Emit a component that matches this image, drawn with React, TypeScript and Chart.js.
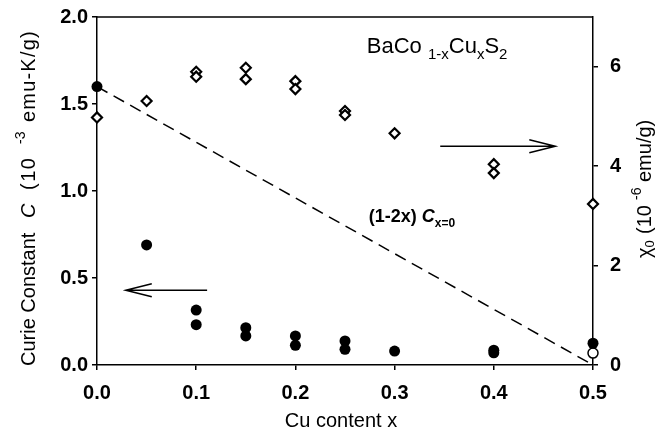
import React, { useEffect, useRef } from "react";
import { Chart, registerables } from "chart.js";

Chart.register(...registerables);

// Curie constant C (10^-3 emu-K/g), left axis
const xCurie = [0, 0.05, 0.1, 0.1, 0.15, 0.15, 0.2, 0.2, 0.25, 0.25, 0.3, 0.4, 0.4, 0.5];
const curie = [1.60, 0.69, 0.316, 0.232, 0.214, 0.167, 0.167, 0.113, 0.138, 0.09, 0.08, 0.085, 0.07, 0.125];

// chi_0 (10^-6 emu/g), right axis
const xChi = [0, 0.05, 0.1, 0.1, 0.15, 0.15, 0.2, 0.2, 0.25, 0.25, 0.3, 0.4, 0.4, 0.5];
const chi = [4.98, 5.31, 5.90, 5.80, 5.98, 5.75, 5.71, 5.55, 5.11, 5.03, 4.66, 4.04, 3.86, 3.24];

// open circle at x = 0.5 (right axis)
const xOpen = [0.5];
const chiOpen = [0.24];

// (1-2x) C_{x=0} reference line
const xFit = [0, 0.5];
const cFit = [1.6, 0];

const xTicks = [0, 0.1, 0.2, 0.3, 0.4, 0.5];
const leftTicks = [0, 0.5, 1.0, 1.5, 2.0];
const rightTicks = [0, 2, 4, 6];

const FONT = "'Liberation Sans', Arial, sans-serif";

type Seg = { t: string; size: number; dy: number; italic?: boolean; bold?: boolean; at?: number; ls?: number };

function setFont(ctx: CanvasRenderingContext2D, s: Seg) {
  ctx.font = `${s.italic ? "italic " : ""}${s.bold ? "bold " : ""}${s.size}px ${FONT}`;
  (ctx as any).letterSpacing = `${s.ls || 0}px`;
}
function drawSegments(ctx: CanvasRenderingContext2D, segs: Seg[], x: number, y: number) {
  let cx = x;
  for (const s of segs) {
    setFont(ctx, s);
    if (s.at !== undefined) cx = x + s.at;
    ctx.fillText(s.t, cx, y + s.dy);
    cx += ctx.measureText(s.t).width;
  }
  (ctx as any).letterSpacing = "0px";
}

const zeroPad = (s: any) => {
  s.paddingTop = 0;
  s.paddingBottom = 0;
  s.paddingLeft = 0;
  s.paddingRight = 0;
};

const decorPlugin = {
  id: "decor",
  afterDraw(chart: any) {
    const ctx: CanvasRenderingContext2D = chart.ctx;
    const { left, right, top, bottom } = chart.chartArea;
    const xs = chart.scales.x;
    const yl = chart.scales.y;
    const yr = chart.scales.y2;
    ctx.save();
    ctx.strokeStyle = "#000";
    ctx.fillStyle = "#000";
    // top frame
    ctx.lineWidth = 1.5;
    ctx.beginPath();
    ctx.moveTo(left, top);
    ctx.lineTo(right, top);
    ctx.stroke();

    // arrows
    const arrow = (x1: number, x2: number, y: number) => {
      ctx.lineWidth = 1.5;
      ctx.beginPath();
      ctx.moveTo(x1, y);
      ctx.lineTo(x2, y);
      const dir = x2 > x1 ? -1 : 1;
      ctx.moveTo(x2 + dir * 26, y - 6.5);
      ctx.lineTo(x2, y);
      ctx.lineTo(x2 + dir * 26, y + 6.5);
      ctx.stroke();
    };
    arrow(xs.getPixelForValue(0.346), xs.getPixelForValue(0.462), yr.getPixelForValue(4.4));
    arrow(xs.getPixelForValue(0.111), xs.getPixelForValue(0.029), yl.getPixelForValue(0.43));

    ctx.textBaseline = "alphabetic";
    ctx.textAlign = "left";
    // compound label
    drawSegments(ctx, [
      { t: "BaCo ", size: 22, dy: 0 },
      { t: "1-x", size: 15, dy: 6 },
      { t: "Cu", size: 22, dy: 0 },
      { t: "x", size: 15, dy: 6 },
      { t: "S", size: 22, dy: 0 },
      { t: "2", size: 15, dy: 6 },
    ], xs.getPixelForValue(0.272), yl.getPixelForValue(1.795));

    drawSegments(ctx, [
      { t: "(1-2x) ", size: 18, dy: 0, bold: true },
      { t: "C", size: 18, dy: 0, bold: true, italic: true },
      { t: "x=0", size: 12, dy: 5, bold: true },
    ], xs.getPixelForValue(0.274), yl.getPixelForValue(0.82));

    // x title
    ctx.font = `20px ${FONT}`;
    ctx.textAlign = "center";
    ctx.textBaseline = "middle";
    ctx.fillText("Cu content x", (left + right) / 2 - 4, 421);

    // left title (drawn bottom-to-top, offsets measured from chart-area bottom)
    ctx.textAlign = "left";
    ctx.textBaseline = "middle";
    ctx.save();
    ctx.translate(29, bottom + 1);
    ctx.rotate(-Math.PI / 2);
    drawSegments(ctx, [
      { t: "Curie Constant", size: 20, dy: 0, at: 0 },
      { t: "C", size: 20, dy: 0, italic: true, at: 148 },
      { t: "(10", size: 20, dy: 0, at: 176, ls: 1.5 },
      { t: "-3", size: 14, dy: -8, at: 222 },
      { t: "emu-K/g)", size: 20, dy: 0, at: 244, ls: 1.2 },
    ], 0, 0);
    ctx.restore();

    // right title
    ctx.save();
    ctx.translate(645, 258);
    ctx.rotate(-Math.PI / 2);
    drawSegments(ctx, [
      { t: "\u03c7", size: 20, dy: 0, at: 0 },
      { t: "0", size: 13, dy: 5 },
      { t: "(10", size: 20, dy: 0, at: 24 },
      { t: "-6", size: 14, dy: -8, at: 58 },
      { t: "emu/g)", size: 20, dy: 0, at: 76 },
    ], 0, 0);
    ctx.restore();

    ctx.restore();
  },
};

export default function App() {
  const ref = useRef<HTMLCanvasElement | null>(null);
  useEffect(() => {
    const canvas = ref.current;
    if (!canvas) return;
    const tickFont = { family: FONT, size: 20, weight: "bold" as const };
    const chart = new Chart(canvas, {
      type: "scatter",
      data: {
        datasets: [
          {
            type: "line",
            label: "(1-2x) C",
            data: xFit.map((x, i) => ({ x, y: cFit[i] })),
            borderColor: "#000",
            borderWidth: 1.5,
            borderDash: [12, 7],
            pointRadius: 0,
            fill: false,
            yAxisID: "y",
            order: 3,
            clip: false,
          } as any,
          {
            label: "chi0",
            data: xChi.map((x, i) => ({ x, y: chi[i] })),
            pointStyle: "rectRot",
            pointRadius: 5,
            pointBorderWidth: 2.2,
            pointBackgroundColor: "#fff",
            pointBorderColor: "#000",
            yAxisID: "y2",
            order: 2,
            clip: false,
          },
          {
            label: "open",
            data: xOpen.map((x, i) => ({ x, y: chiOpen[i] })),
            pointStyle: "circle",
            pointRadius: 5,
            pointBorderWidth: 1.5,
            pointBackgroundColor: "#fff",
            pointBorderColor: "#000",
            yAxisID: "y2",
            order: 2,
            clip: false,
          },
          {
            label: "C",
            data: xCurie.map((x, i) => ({ x, y: curie[i] })),
            pointStyle: "circle",
            pointRadius: 5.5,
            pointBorderWidth: 0,
            pointBackgroundColor: "#000",
            pointBorderColor: "#000",
            yAxisID: "y",
            order: 1,
            clip: false,
          },
        ],
      },
      options: {
        responsive: false,
        animation: false,
        layout: { padding: { top: 17, left: 0, right: 0, bottom: 0 } },
        plugins: { legend: { display: false }, tooltip: { enabled: false } },
        scales: {
          x: {
            type: "linear",
            min: 0,
            max: 0.5,
            afterFit: (s: any) => { s.height = 76; zeroPad(s); },
            afterBuildTicks: (s: any) => { s.ticks = xTicks.map((v) => ({ value: v })); },
            ticks: { color: "#000", font: tickFont, padding: 11, callback: (v: any) => Number(v).toFixed(1), maxRotation: 0 },
            grid: { drawOnChartArea: false, drawTicks: true, tickLength: 5, color: "#000", lineWidth: 1.5 },
            border: { display: true, color: "#000", width: 1.5 },
          },
          y: {
            type: "linear",
            position: "left",
            min: 0,
            max: 2,
            afterFit: (s: any) => { s.width = 97; zeroPad(s); },
            afterBuildTicks: (s: any) => { s.ticks = leftTicks.map((v) => ({ value: v })); },
            ticks: { color: "#000", font: tickFont, padding: 4, callback: (v: any) => Number(v).toFixed(1) },
            grid: { drawOnChartArea: false, drawTicks: true, tickLength: 5, color: "#000", lineWidth: 1.5 },
            border: { display: true, color: "#000", width: 1.5 },
          },
          y2: {
            type: "linear",
            position: "right",
            min: 0,
            max: 7,
            afterFit: (s: any) => { s.width = 72; zeroPad(s); },
            afterBuildTicks: (s: any) => { s.ticks = rightTicks.map((v) => ({ value: v })); },
            ticks: { color: "#000", font: tickFont, padding: 12, callback: (v: any) => String(v) },
            grid: { drawOnChartArea: false, drawTicks: true, tickLength: 5, color: "#000", lineWidth: 1.5 },
            border: { display: true, color: "#000", width: 1.5 },
          },
        },
      },
      plugins: [decorPlugin],
    });
    return () => chart.destroy();
  }, []);
  return (
    <div style={{ position: "absolute", left: 0, top: 0, width: 665, height: 441, background: "#fff" }}>
      <canvas ref={ref} width={665} height={441} style={{ display: "block" }} />
    </div>
  );
}
